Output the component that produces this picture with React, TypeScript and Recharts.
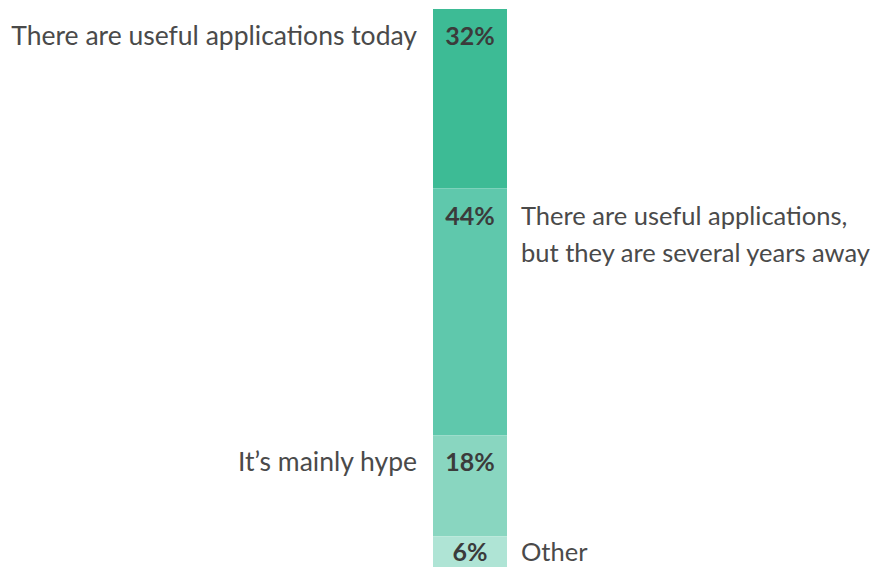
import React from 'react';
import { BarChart, Bar, XAxis, YAxis, LabelList } from 'recharts';

const categories = ['All respondents'];
const segmentKeys = ['today', 'later', 'hype', 'other'];
const segmentValues = [32, 44, 18, 6];
const segmentLabels = [
    ['There are useful applications today'],
    ['There are useful applications,', 'but they are several years away'],
    ['It\u2019s mainly hype'],
    ['Other'],
];
const segmentSides = ['left', 'right', 'left', 'right'];
const segmentColors = ['#3dbb95', '#5fc8ac', '#89d6c0', '#afe4d5'];

const data = categories.map((name) => {
    const row: Record<string, string | number> = { name };
    segmentKeys.forEach((k, i) => {
        row[k] = segmentValues[i];
    });
    return row;
});

const FONT = 'Lato, "Noto Sans", sans-serif';

const makeLabel = (idx: number) => (props: any) => {
    const { x, y, width, height, value } = props;
    // reversed axis gives a negative height, so normalise
    const top = Math.min(y, y + height);
    const h = Math.abs(height);
    const lines = segmentLabels[idx];
    const side = segmentSides[idx];
    // tall segments: label near the top, short ones: centred
    const base = h > 60 ? top + 36 : top + h / 2 + 8;
    const cx = x + width / 2;
    const tx = side === 'left' ? x - 16 : x + width + 14;
    return (
        <g>
            <text
                x={cx}
                y={base}
                textAnchor="middle"
                fontFamily={FONT}
                fontWeight={700}
                fontSize={25}
                fill="#3b3b3b"
            >
                {`${value}%`}
            </text>
            {lines.map((line, i) => (
                <text
                    key={i}
                    x={tx}
                    y={base + i * 37}
                    textAnchor={side === 'left' ? 'end' : 'start'}
                    fontFamily={FONT}
                    fontSize={side === 'left' ? 26.5 : 25.5}
                    fill="#4a4a4a"
                >
                    {line}
                </text>
            ))}
        </g>
    );
};

const App = () => {
    return (
        <BarChart
            width={873}
            height={562}
            data={data}
            margin={{ top: 1, right: 0, left: 51, bottom: 0 }}
            barSize={74}
        >
            <XAxis dataKey="name" hide />
            <YAxis type="number" domain={[0, 100]} reversed hide />
            {segmentKeys.map((k, i) => (
                <Bar
                    key={k}
                    dataKey={k}
                    stackId="a"
                    fill={segmentColors[i]}
                    isAnimationActive={false}
                >
                    <LabelList dataKey={k} content={makeLabel(i)} />
                </Bar>
            ))}
        </BarChart>
    );
};

export default App;
